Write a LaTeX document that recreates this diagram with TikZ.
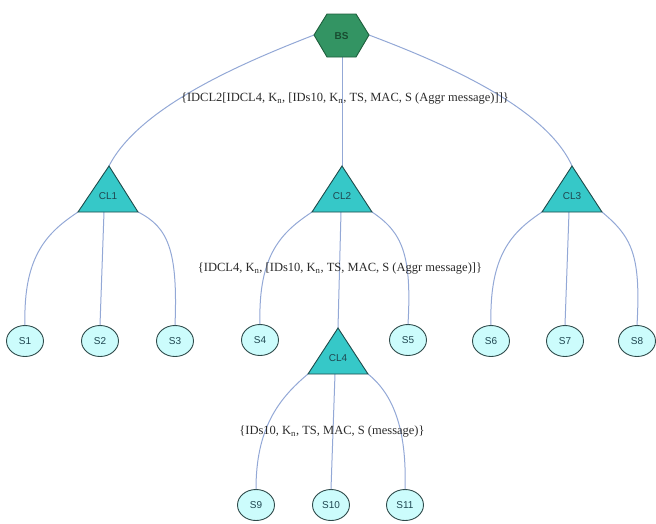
\documentclass[tikz,border=0pt]{standalone}
\usepackage{fontspec}
\setmainfont{Liberation Serif}
\newfontfamily\arialfont{Liberation Sans}
\usetikzlibrary{shapes.geometric}
\definecolor{edgeblue}{HTML}{93A8D6}
\definecolor{hexfill}{HTML}{339463}
\definecolor{hexline}{HTML}{1E5E3C}
\definecolor{trifill}{HTML}{36C8C8}
\definecolor{triline}{HTML}{1E4A4A}
\definecolor{sfill}{HTML}{CCFCFC}
\definecolor{sline}{HTML}{2E4A4A}
\definecolor{intext}{HTML}{1F4650}
\definecolor{lbltext}{HTML}{2A2A2A}
\tikzset{
  edge/.style={draw=edgeblue, line width=1pt},
  tri/.style={fill=trifill, draw=triline, line width=0.9pt, line join=miter},
  hexa/.style={fill=hexfill, draw=hexline, line width=0.9pt},
  inlabel/.style={font=\arialfont\fontsize{10}{12}\selectfont, text=intext, inner sep=0pt},
  sensor/.style={ellipse, fill=sfill, draw=sline, line width=0.9pt, minimum width=37pt, minimum height=31pt, inner sep=0pt, font=\arialfont\fontsize{10}{12}\selectfont, text=intext},
  msg/.style={font=\fontsize{12.5}{14}\selectfont, text=lbltext, inner sep=0pt}
}
\begin{document}
\begin{tikzpicture}[x=1pt,y=-1pt]
\useasboundingbox (0,0) rectangle (656,523);
% ---- BS hexagon
\coordinate (bsW) at (314,35);
\coordinate (bsE) at (369,35);
\coordinate (bsS) at (342,57);
% ---- triangle corners
\coordinate (cl1a) at (109,166); \coordinate (cl1l) at (78,212); \coordinate (cl1r) at (138,212); \coordinate (cl1b) at (104,212);
\coordinate (cl2a) at (342,166); \coordinate (cl2l) at (312,212); \coordinate (cl2r) at (372,212); \coordinate (cl2b) at (341,212);
\coordinate (cl3a) at (572,166); \coordinate (cl3l) at (542,212); \coordinate (cl3r) at (602,212); \coordinate (cl3b) at (569,212);
\coordinate (cl4a) at (338,328); \coordinate (cl4l) at (308,374); \coordinate (cl4r) at (368,374); \coordinate (cl4b) at (335,374);
% ---- sensors
\node[sensor] (s1) at (25,341) {S1};
\node[sensor] (s2) at (100,341) {S2};
\node[sensor] (s3) at (175,341) {S3};
\node[sensor] (s4) at (260,340) {S4};
\node[sensor] (s5) at (408,340) {S5};
\node[sensor] (s6) at (491,341) {S6};
\node[sensor] (s7) at (565,341) {S7};
\node[sensor] (s8) at (637,341) {S8};
\node[sensor] (s9) at (256,505) {S9};
\node[sensor] (s10) at (331,505) {S10};
\node[sensor] (s11) at (405,505) {S11};
% ---- edges
\draw[edge] (bsW) .. controls (250,60) and (140,105) .. (cl1a);
\draw[edge] (bsS) -- (cl2a);
\draw[edge] (bsE) .. controls (435,60) and (545,105) .. (cl3a);
\draw[edge] (cl1l) .. controls +(-30,20) and +(-2,-70) .. (s1.north);
\draw[edge] (cl1b) -- (s2.north);
\draw[edge] (cl1r) .. controls +(30,15) and +(3,-75) .. (s3.north);
\draw[edge] (cl2l) .. controls +(-30,20) and +(-2,-70) .. (s4.north);
\draw[edge] (cl2b) -- (cl4a);
\draw[edge] (cl2r) .. controls +(30,20) and +(4,-70) .. (s5.north);
\draw[edge] (cl3l) .. controls +(-30,20) and +(-2,-70) .. (s6.north);
\draw[edge] (cl3b) -- (s7.north);
\draw[edge] (cl3r) .. controls +(30,25) and +(4,-70) .. (s8.north);
\draw[edge] (cl4l) .. controls +(-30,25) and +(0,-60) .. (s9.north);
\draw[edge] (cl4b) -- (s10.north);
\draw[edge] (cl4r) .. controls +(25,20) and +(2,-60) .. (s11.north);
% ---- shapes
\draw[hexa] (bsW) -- (327,14) -- (356,14) -- (bsE) -- (356,57) -- (327,57) -- cycle;
\node[inlabel, font=\arialfont\bfseries\fontsize{10}{12}\selectfont, text=hexline!80!black] (bs) at (341.5,36) {BS};
\draw[tri] (cl1a) -- (cl1l) -- (cl1r) -- cycle;
\draw[tri] (cl2a) -- (cl2l) -- (cl2r) -- cycle;
\draw[tri] (cl3a) -- (cl3l) -- (cl3r) -- cycle;
\draw[tri] (cl4a) -- (cl4l) -- (cl4r) -- cycle;
\node[inlabel] (cl1) at (108,196) {CL1};
\node[inlabel] (cl2) at (342,196) {CL2};
\node[inlabel] (cl3) at (572,196) {CL3};
\node[inlabel] (cl4) at (338,358) {CL4};
% ---- message labels
\node[msg] (m1) at (345,99) {\{IDCL2[IDCL4, K\textsubscript{n}, [IDs10, K\textsubscript{n}, TS, MAC, S (Aggr message)]]\}};
\node[msg] (m2) at (340,269) {\{IDCL4, K\textsubscript{n}, [IDs10, K\textsubscript{n}, TS, MAC, S (Aggr message)]\}};
\node[msg] (m3) at (332,432) {\{IDs10, K\textsubscript{n}, TS, MAC, S (message)\}};
\end{tikzpicture}
\end{document}
